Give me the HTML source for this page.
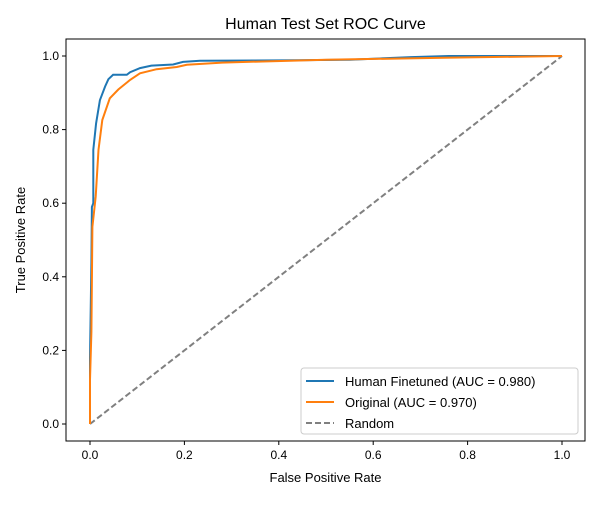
<!DOCTYPE html>
<html><head><meta charset="utf-8"><style>
body{margin:0;background:#fff;font-family:"Liberation Sans",sans-serif}
</style></head><body>
<svg id="chart" width="600" height="500" xmlns="http://www.w3.org/2000/svg" font-family="Liberation Sans, sans-serif"></svg>
<script>
const xTicks=[0,0.2,0.4,0.6,0.8,1.0];
const yTicks=[0,0.2,0.4,0.6,0.8,1.0];
const tickLabels=["0.0","0.2","0.4","0.6","0.8","1.0"];
const finetunedFpr=[0,0,0.003,0.004,0.007,0.007,0.013,0.021,0.032,0.039,0.049,0.078,0.085,0.106,0.13,0.176,0.197,0.233,0.4,0.55,0.68,0.76,1];
const finetunedTpr=[0,0.18,0.44,0.59,0.6,0.745,0.817,0.88,0.917,0.937,0.949,0.949,0.956,0.967,0.974,0.977,0.984,0.987,0.988,0.99,0.997,1,1];
const originalFpr=[0,0,0.003,0.005,0.012,0.018,0.026,0.042,0.06,0.085,0.106,0.141,0.184,0.205,0.28,0.5,0.75,1];
const originalTpr=[0,0.12,0.25,0.536,0.618,0.745,0.826,0.885,0.909,0.935,0.953,0.964,0.97,0.976,0.982,0.99,0.995,1];
const randomX=[0,1], randomY=[0,1];
const svg=document.getElementById('chart');
const NS='http://www.w3.org/2000/svg';
const L=66,R=585,T=39,B=441;
const sx=v=>90+v*472, sy=v=>424-v*368;
function mk(t,a,p){const e=document.createElementNS(NS,t);for(const k in a)e.setAttribute(k,a[k]);(p||svg).appendChild(e);return e;}
let e=mk('rect',{x:L,y:T,width:R-L,height:B-T,fill:'none',stroke:'#000','stroke-width':1});


xTicks.forEach((v,i)=>{
 let t=mk('line',{x1:sx(v),x2:sx(v),y1:B,y2:B+4,stroke:'#000'});
 
 
 let l=mk('text',{x:sx(v),y:B+18,'text-anchor':'middle','font-size':12});l.textContent=tickLabels[i];
 
 
});
yTicks.forEach((v,i)=>{
 let t=mk('line',{x1:L-4,x2:L,y1:sy(v),y2:sy(v),stroke:'#000'});
 
 
 let l=mk('text',{x:L-7,y:sy(v)+4,'text-anchor':'end','font-size':12});l.textContent=tickLabels[i];
 
 
});
function line(xs,ys,c,dash,name){
 const d=xs.map((x,i)=>(i?'L':'M')+sx(x).toFixed(1)+','+sy(ys[i]).toFixed(1)).join('');
 const p=mk('path',{d,fill:'none',stroke:c,'stroke-width':2,'stroke-dasharray':dash||'none'});
 
 
}
line(randomX,randomY,'#808080','6,3','random-line');
line(finetunedFpr,finetunedTpr,'#1f77b4',null,'finetuned-roc-line');
line(originalFpr,originalTpr,'#ff7f0e',null,'original-roc-line');
let tt=mk('text',{x:325.5,y:29,'text-anchor':'middle','font-size':16});tt.textContent='Human Test Set ROC Curve';


let xt=mk('text',{x:325.5,y:482,'text-anchor':'middle','font-size':13});xt.textContent='False Positive Rate';


let yt=mk('text',{x:25,y:240,'text-anchor':'middle','font-size':13,transform:'rotate(-90 25 240)'});yt.textContent='True Positive Rate';


const g=mk('g',{});


mk('rect',{x:301,y:368,width:277,height:66,rx:3,fill:'#fff',stroke:'#ccc'},g);
const leg=[['Human Finetuned (AUC = 0.980)','#1f77b4',null],['Original (AUC = 0.970)','#ff7f0e',null],['Random','#808080','6,3']];
leg.forEach((d,i)=>{
 const y=381+i*21;
 let s=mk('line',{x1:306,x2:334,y1:y,y2:y,stroke:d[1],'stroke-width':2,'stroke-dasharray':d[2]||'none'},g);
 
 
 let t=mk('text',{x:345,y:y+5,'font-size':13},g);t.textContent=d[0];
 
 
});
</script>
</body></html>
